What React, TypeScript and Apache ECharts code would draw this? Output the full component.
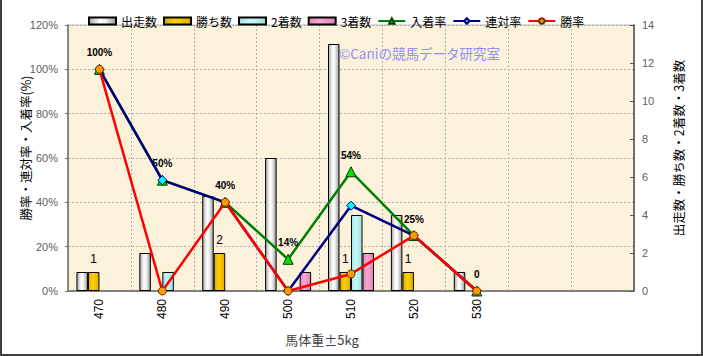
import React, { useEffect, useRef } from "react";
import * as echarts from "echarts";

const categories = ["470", "480", "490", "500", "510", "520", "530", "", " "];
const runners = [1, 2, 5, 7, 13, 4, 1, null, null];
const wins = [1, 0, 2, 0, 1, 1, 0, null, null];
const seconds = [0, 1, 0, 0, 4, 0, 0, null, null];
const thirds = [0, 0, 0, 1, 2, 0, 0, null, null];
const placeRate = [100, 50, 40, 14.3, 53.8, 25, 0, null, null];
const quinellaRate = [100, 50, 40, 0, 38.5, 25, 0, null, null];
const winRate = [100, 0, 40, 0, 7.7, 25, 0, null, null];
const leftTicks = { min: 0, max: 120, interval: 20 };
const rightTicks = { min: 0, max: 14, interval: 2 };

const JP = "'Noto Sans CJK JP', sans-serif";
const NUM = "'Liberation Sans', 'Noto Sans CJK JP', sans-serif";

function hGrad(stops: [number, string][]) {
  return new echarts.graphic.LinearGradient(
    0, 0, 1, 0,
    stops.map(([offset, color]) => ({ offset, color }))
  );
}

// zero-height bars are not drawn in the original chart
const hideZero = (arr: (number | null)[]) => arr.map((v) => (v === 0 ? null : v));

export default function App() {
  const ref = useRef<HTMLDivElement>(null);
  useEffect(() => {
    document.body.style.margin = "0";
    const chart = echarts.init(ref.current!, null, { renderer: "svg" });
    const barBase = {
      type: "bar",
      yAxisIndex: 1,
      barWidth: 11.5,
      barGap: "0%",
    };
    chart.setOption({
      animation: false,
      backgroundColor: "#ffffff",
      legend: {
        left: 83,
        top: 10,
        itemWidth: 27,
        itemHeight: 7,
        itemGap: 6,
        textStyle: { fontFamily: JP, fontSize: 12, color: "#000" },
        data: [
          { name: "出走数", icon: "rect" },
          { name: "勝ち数", icon: "rect" },
          { name: "2着数", icon: "rect" },
          { name: "3着数", icon: "rect" },
          "入着率",
          "連対率",
          "勝率",
        ],
      },
      grid: {
        left: 68,
        right: 69,
        top: 25,
        bottom: 65,
        show: true,
        backgroundColor: "#fcf1db",
        borderColor: "#b8b8b8",
        borderWidth: 1,
      },
      xAxis: {
        type: "category",
        data: categories,
        axisLine: { lineStyle: { color: "#808080", width: 2 } },
        axisTick: { show: false },
        axisLabel: {
          rotate: 90,
          margin: 8,
          fontSize: 12,
          color: "#000",
          fontFamily: NUM,
          interval: 0,
        },
        splitLine: {
          show: true,
          lineStyle: { color: "#b0b0b0", type: [2, 2], width: 1 },
        },
      },
      yAxis: [
        {
          type: "value",
          ...leftTicks,
          position: "left",
          axisLine: { show: true, lineStyle: { color: "#707070", width: 1.5 } },
          axisTick: { show: true, length: 3, lineStyle: { color: "#707070" } },
          axisLabel: {
            formatter: "{value}%",
            fontSize: 11,
            color: "#606060",
            fontFamily: NUM,
            margin: 10,
          },
          splitLine: {
            show: true,
            lineStyle: { color: "#b0b0b0", type: [2, 2], width: 1 },
          },
        },
        {
          type: "value",
          ...rightTicks,
          position: "right",
          axisLine: { show: true, lineStyle: { color: "#505050", width: 1.5 } },
          axisTick: { show: true, inside: true, length: 4, lineStyle: { color: "#505050" } },
          axisLabel: {
            fontSize: 11,
            color: "#606060",
            fontFamily: NUM,
            margin: 8,
          },
          splitLine: { show: false },
        },
      ],
      graphic: [
        {
          type: "polyline",
          shape: { points: [[1, 0], [1, 355], [702, 355], [702, 0]] },
          style: { fill: "none", stroke: "#404040", lineWidth: 2 },
          silent: true,
        },
        {
          type: "text",
          x: 25,
          y: 148,
          rotation: Math.PI / 2,
          style: {
            text: "勝率・連対率・入着率(%)",
            fontFamily: JP,
            fontSize: 12.5,
            fill: "#000",
            align: "center",
            verticalAlign: "middle",
          },
        },
        {
          type: "text",
          x: 678,
          y: 148,
          rotation: Math.PI / 2,
          style: {
            text: "出走数・勝ち数・2着数・3着数",
            fontFamily: JP,
            fontSize: 12.5,
            fill: "#000",
            align: "center",
            verticalAlign: "middle",
          },
        },
        {
          type: "text",
          x: 322,
          y: 339,
          style: {
            text: "馬体重±5kg",
            fontFamily: JP,
            fontSize: 13,
            fill: "#404040",
            align: "center",
            verticalAlign: "middle",
          },
        },
        {
          type: "text",
          x: 339,
          y: 53,
          z: 100,
          style: {
            text: "©Caniの競馬データ研究室",
            fontFamily: JP,
            fontSize: 13.5,
            fill: "#8f8ff5",
            align: "left",
            verticalAlign: "middle",
          },
        },
      ],
      series: [
        {
          ...barBase,
          name: "出走数",
          data: hideZero(runners),
          itemStyle: {
            color: hGrad([[0, "#a8a8a8"], [0.4, "#ffffff"], [0.6, "#f4f4f4"], [1, "#9a9a9a"]]),
            borderColor: "#000",
            borderWidth: 1,
          },
        },
        {
          ...barBase,
          name: "勝ち数",
          data: hideZero(wins),
          itemStyle: {
            color: hGrad([[0, "#d9a800"], [0.4, "#ffd000"], [1, "#e0b000"]]),
            borderColor: "#000",
            borderWidth: 1,
          },
          label: {
            show: true,
            position: "top",
            distance: 7,
            fontSize: 12,
            color: "#000",
            fontFamily: NUM,
            formatter: (p: any) => (p.value > 0 ? String(p.value) : ""),
          },
        },
        {
          ...barBase,
          name: "2着数",
          data: hideZero(seconds),
          itemStyle: {
            color: hGrad([[0, "#9ee6e6"], [0.4, "#c8f8f8"], [1, "#a0e0e0"]]),
            borderColor: "#000",
            borderWidth: 1,
          },
        },
        {
          ...barBase,
          name: "3着数",
          data: hideZero(thirds),
          itemStyle: {
            color: hGrad([[0, "#e884b8"], [0.4, "#f8a8d0"], [1, "#e080b0"]]),
            borderColor: "#000",
            borderWidth: 1,
          },
        },
        {
          type: "line",
          name: "入着率",
          yAxisIndex: 0,
          data: placeRate,
          symbol: "triangle",
          symbolSize: 10,
          lineStyle: { color: "#008000", width: 2.5 },
          itemStyle: { color: "#00e000", borderColor: "#004000", borderWidth: 1 },
          label: {
            show: true,
            position: "top",
            distance: 6,
            fontSize: 10,
            fontWeight: "bold",
            color: "#000",
            fontFamily: NUM,
            formatter: (p: any) =>
              p.value === 0 ? "0" : Math.round(p.value) + "%",
          },
          z: 3,
        },
        {
          type: "line",
          name: "連対率",
          yAxisIndex: 0,
          data: quinellaRate,
          symbol: "diamond",
          symbolSize: 9,
          lineStyle: { color: "#000080", width: 2.5 },
          itemStyle: { color: "#00ffff", borderColor: "#000080", borderWidth: 1 },
          z: 4,
        },
        {
          type: "line",
          name: "勝率",
          yAxisIndex: 0,
          data: winRate,
          symbol: "circle",
          symbolSize: 8,
          lineStyle: { color: "#ff0000", width: 2.5 },
          itemStyle: { color: "#ff9900", borderColor: "#663300", borderWidth: 1 },
          z: 5,
        },
      ],
    });
    return () => chart.dispose();
  }, []);
  return <div ref={ref} style={{ width: 703, height: 356 }} />;
}
